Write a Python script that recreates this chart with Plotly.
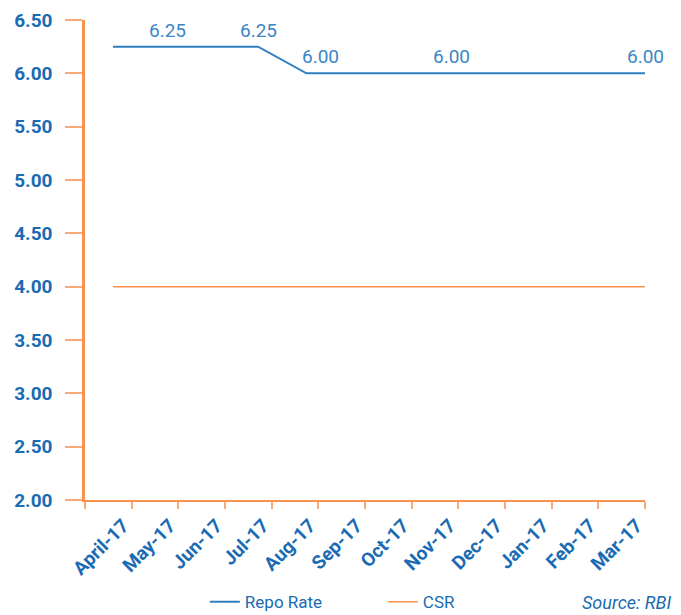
import plotly.graph_objects as go

months = ["April-17", "May-17", "Jun-17", "Jul-17", "Aug-17", "Sep-17",
          "Oct-17", "Nov-17", "Dec-17", "Jan-17", "Feb-17", "Mar-17"]
repo_rate = [6.25, 6.25, 6.25, 6.25, 6.00, 6.00, 6.00, 6.00, 6.00, 6.00, 6.00, 6.00]
csr = [4.00] * 12
repo_labels = ["", "6.25", "", "6.25", "6.00", "", "", "6.00", "", "", "", "6.00"]
y_ticks = [2.0, 2.5, 3.0, 3.5, 4.0, 4.5, 5.0, 5.5, 6.0, 6.5]

BLUE_LINE = "#2F7EC1"
BLUE_TEXT = "#1A6BB3"
BLUE_LABEL = "#3A86C8"
ORANGE = "#F7924F"
ORANGE_TICK = "#F9A877"

idx = list(range(len(months)))

fig = go.Figure()
fig.add_trace(go.Scatter(
    x=idx, y=repo_rate, mode="lines", name="Repo Rate",
    line=dict(color=BLUE_LINE, width=2), hoverinfo="skip",
))
fig.add_trace(go.Scatter(
    x=idx, y=csr, mode="lines", name="CSR",
    line=dict(color=ORANGE, width=1.5), hoverinfo="skip",
))
# invisible helper trace for the category tick axis
fig.add_trace(go.Scatter(
    x=months, y=csr, xaxis="x2", mode="markers",
    marker=dict(opacity=0), showlegend=False, hoverinfo="skip",
))

annotations = []
for i, (v, lab) in enumerate(zip(repo_rate, repo_labels)):
    if lab:
        annotations.append(dict(
            x=i, y=v, xref="x", yref="y", text=lab, showarrow=False,
            xanchor="left" if i == 4 else "center", yanchor="bottom",
            xshift=-6 if i == 4 else (6 if i == 1 else 0), yshift=3,
            font=dict(family="Roboto", size=19, color=BLUE_LABEL),
        ))
annotations.append(dict(
    text="<i>Source: RBI</i>", xref="paper", yref="paper",
    x=(673 - 85) / 560.0, y=-0.2125, xanchor="right", yanchor="middle",
    showarrow=False, font=dict(family="Roboto", size=18, color=BLUE_TEXT),
))

step_px = (645 - 113) / 11.0
left_units = (113 - 85) / step_px

fig.update_layout(
    width=681, height=615,
    margin=dict(l=85, r=36, t=20, b=115, autoexpand=False),
    paper_bgcolor="white", plot_bgcolor="white",
    showlegend=True,
    xaxis=dict(range=[-left_units, 11], visible=False, showgrid=False,
               zeroline=False, automargin=False),
    xaxis2=dict(
        type="category", categoryarray=months, categoryorder="array",
        overlaying="x", anchor="y", side="bottom",
        range=[-0.5, 11.5], tickson="boundaries", automargin=False,
        ticks="outside", ticklen=7, tickcolor=ORANGE_TICK, tickwidth=1.5,
        showline=True, linecolor=ORANGE, linewidth=2,
        showgrid=False, zeroline=False,
        tickangle=-45, ticklabelshift=15, ticklabelstandoff=5,
        tickfont=dict(family="Roboto", size=19, color=BLUE_TEXT, weight="bold"),
    ),
    yaxis=dict(
        range=[2, 6.5], tickvals=y_ticks, tickformat=".2f", automargin=False,
        ticks="outside", ticklen=17, tickcolor=ORANGE_TICK, tickwidth=1.5,
        showline=True, linecolor=ORANGE, linewidth=2.5,
        showgrid=False, zeroline=False, ticklabelstandoff=9,
        tickfont=dict(family="Roboto", size=19, color=BLUE_TEXT, weight="bold"),
    ),
    legend=dict(
        orientation="h", x=0.214, xanchor="left", y=-0.213, yanchor="middle",
        entrywidth=133, entrywidthmode="pixels",
        font=dict(family="Roboto", size=17, color=BLUE_TEXT),
        bgcolor="rgba(0,0,0,0)",
    ),
    annotations=annotations,
)

fig.write_html("out.html")
